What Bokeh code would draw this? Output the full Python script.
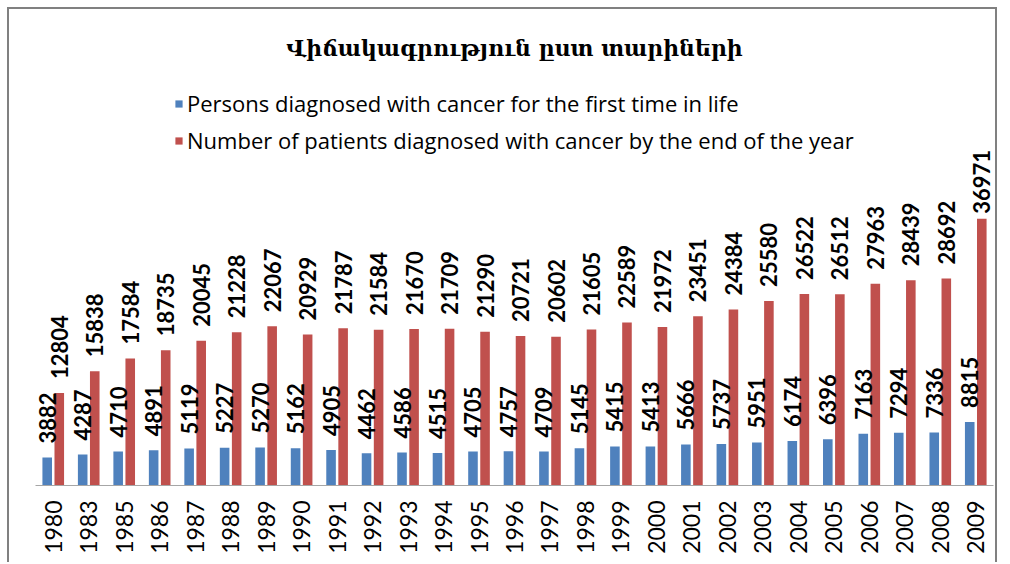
from math import pi
from bokeh.plotting import figure
from bokeh.models import ColumnDataSource, Legend, LegendItem, Range1d
from bokeh.transform import dodge
from bokeh.core.properties import value
from bokeh.embed import file_html
from bokeh.resources import INLINE

# ---- data ----
years = ["1980", "1983", "1985", "1986", "1987", "1988", "1989", "1990", "1991", "1992",
         "1993", "1994", "1995", "1996", "1997", "1998", "1999", "2000", "2001", "2002",
         "2003", "2004", "2005", "2006", "2007", "2008", "2009"]
first_time = [3882, 4287, 4710, 4891, 5119, 5227, 5270, 5162, 4905, 4462,
              4586, 4515, 4705, 4757, 4709, 5145, 5415, 5413, 5666, 5737,
              5951, 6174, 6396, 7163, 7294, 7336, 8815]
end_of_year = [12804, 15838, 17584, 18735, 20045, 21228, 22067, 20929, 21787, 21584,
               21670, 21709, 21290, 20721, 20602, 21605, 22589, 21972, 23451, 24384,
               25580, 26522, 26512, 27963, 28439, 28692, 36971]
series_names = ["Persons diagnosed with cancer for the first time in life",
                "Number of patients diagnosed with cancer by the end of the year"]
title_text = "Վիճակագրություն ըստ տարիների"

BLUE = "#4F81BD"
RED = "#C0504D"

# label offsets (screen px above bar top); the tallest label sits closer to its bar
first_off = [-14] * len(years)
total_off = [-14] * (len(years) - 1) + [-5]

source = ColumnDataSource(dict(
    year=years,
    first=first_time,
    total=end_of_year,
    first_lbl=[str(v) for v in first_time],
    total_lbl=[str(v) for v in end_of_year],
    first_off=first_off,
    total_off=total_off,
))

p = figure(
    x_range=years,
    y_range=Range1d(0, 57500),
    width=990, height=555,
    output_backend="svg",
    toolbar_location=None,
    y_axis_location=None,
    min_border_left=26, min_border_right=6,
    min_border_top=61, min_border_bottom=79,
    styles={"border-top": "2px solid #808080",
            "border-left": "2px solid #808080",
            "border-right": "2px solid #808080",
            "margin-left": "7px",
            "margin-top": "7px"},
)
p.title.text = title_text
p.title.align = "center"
p.title.text_font = "DejaVu Serif"
p.title.text_font_size = "22px"
p.title.text_font_style = "bold"
p.title.text_color = "black"
p.title.standoff = 19

p.outline_line_color = None
p.xgrid.grid_line_color = None
p.ygrid.grid_line_color = None
p.background_fill_color = "white"
p.border_fill_color = "white"

OFF = 0.17
r1 = p.vbar(x=dodge("year", -OFF, range=p.x_range), top="first", width=0.27,
            source=source, fill_color=BLUE, line_color=None)
r2 = p.vbar(x=dodge("year", OFF, range=p.x_range), top="total", width=0.27,
            source=source, fill_color=RED, line_color=None)

for col, lbl, yoff, off in (("first", "first_lbl", "first_off", -OFF),
                            ("total", "total_lbl", "total_off", OFF)):
    p.text(x=dodge("year", off, range=p.x_range), y=col, text=lbl, source=source,
           angle=pi / 2, text_align="left", text_baseline="middle", y_offset=yoff,
           text_font=value("Lato"), text_font_style="bold", text_font_size="22px",
           text_color="black")

ax = p.xaxis[0]
ax.axis_line_color = "#A6A6A6"
ax.axis_line_width = 1
ax.major_tick_line_color = None
ax.minor_tick_line_color = None
ax.major_tick_out = 0
ax.major_tick_in = 0
ax.major_label_orientation = pi / 2
ax.major_label_standoff = 15
ax.major_label_text_font = "Lato"
ax.major_label_text_font_size = "23px"
ax.major_label_text_color = "black"

legend = Legend(
    items=[LegendItem(label=series_names[0], renderers=[r1]),
           LegendItem(label=series_names[1], renderers=[r2])],
    location=(139, 330),
    glyph_width=9, glyph_height=9,
    label_standoff=4,
    label_height=20,
    spacing=7,
    padding=0, margin=0,
    border_line_color=None,
    background_fill_alpha=0,
    label_text_font="Open Sans",
    label_text_font_size="22px",
    label_text_color="black",
)
p.add_layout(legend)

open("out.html", "w").write(file_html(p, INLINE))
